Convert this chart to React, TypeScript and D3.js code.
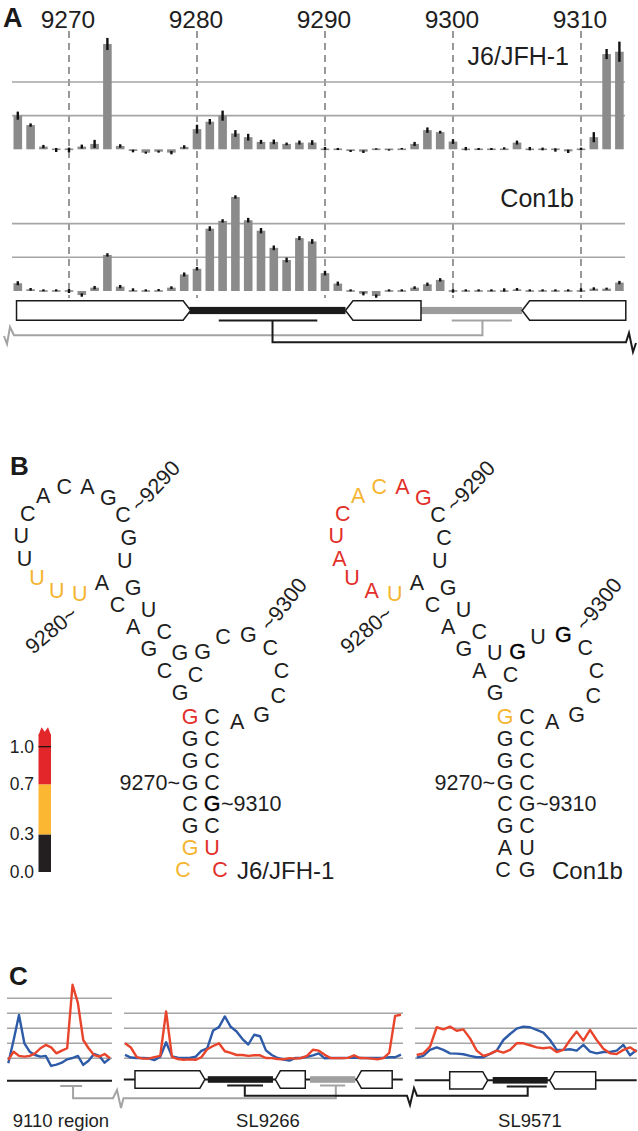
import React from 'react';
import * as d3 from 'd3';

const FONT = '"Liberation Sans", Arial, Helvetica, sans-serif';

// ---------- Panel A data (nt 9266..9313) ----------
const NT = d3.range(9266, 9314);
const TICKS = [9270, 9280, 9290, 9300, 9310];

const J6_VALUES = [
  1.0, 0.72, 0.08, -0.02, -0.02, 0.08, 0.16, 3.13, 0.1, -0.05, -0.1, -0.07,
  -0.1, 0.07, 0.6, 0.82, 1.0, 0.47, 0.36, 0.22, 0.22, 0.16, 0.2, 0.2,
  0.02, 0.01, -0.05, -0.07, 0.01, -0.02, 0.02, 0.16, 0.57, 0.51, 0.23, 0.02,
  0.01, 0.01, 0.03, 0.2, 0.02, 0.01, -0.02, -0.06, 0.01, 0.36, 2.83, 2.9,
];
const J6_ERRORS = [
  0.12, 0.05, 0.05, 0.06, 0.07, 0.06, 0.12, 0.18, 0.05, 0.04, 0.03, 0.03,
  0.05, 0.05, 0.13, 0.08, 0.15, 0.1, 0.1, 0.06, 0.07, 0.04, 0.06, 0.07,
  0.05, 0.03, 0.03, 0.04, 0.02, 0.02, 0.02, 0.06, 0.08, 0.04, 0.07, 0.05,
  0.03, 0.03, 0.03, 0.06, 0.05, 0.04, 0.05, 0.05, 0.04, 0.15, 0.15, 0.3,
];
const CON1B_VALUES = [
  0.23, 0.05, 0.02, 0.02, 0.0, -0.12, 0.1, 1.07, 0.13, 0.04, 0.02, 0.03,
  0.1, 0.49, 0.66, 1.85, 2.08, 2.79, 2.1, 1.79, 1.28, 0.92, 1.57, 1.47,
  0.53, 0.22, 0.02, -0.08, -0.15, 0.02, 0.02, 0.1, 0.2, 0.33, 0.0, 0.02,
  0.02, 0.02, 0.03, 0.05, 0.02, 0.02, 0.02, 0.02, 0.03, 0.07, 0.07, 0.25,
];
const CON1B_ERRORS = [
  0.06, 0.04, 0.03, 0.03, 0.06, 0.05, 0.05, 0.05, 0.05, 0.04, 0.03, 0.03,
  0.04, 0.06, 0.05, 0.07, 0.05, 0.05, 0.07, 0.08, 0.07, 0.07, 0.06, 0.07,
  0.07, 0.06, 0.03, 0.05, 0.05, 0.03, 0.03, 0.04, 0.05, 0.05, 0.05, 0.03,
  0.03, 0.03, 0.05, 0.04, 0.03, 0.03, 0.03, 0.03, 0.05, 0.04, 0.03, 0.05,
];

// ---------- Panel B data ----------
const J6_SEQ = 'CGGCGGGG' + 'GCGACA' + 'UUUUUCACAGCGU' + 'GUCGC' + 'GCGCCCGA' + 'CCCCGCUC';
const J6_COLS = 'ookkkkkr' + 'kkkkkk' + 'oookkkkkkkkkk' + 'kkkkk' + 'kkkkkkkk' + 'kkkkkkrr';
const J6_BOLD = [44];
const CON_SEQ = 'CAGCGGGG' + 'GAGACA' + 'UAUAUCACAGCCU' + 'GUCUC' + 'GUGCCCGA' + 'CCCCGCUG';
const CON_COLS = 'kkkkkkko' + 'kkkkkk' + 'orrrrroorrkkk' + 'kkkkk' + 'kkkkkkkk' + 'kkkkkkkk';
const CON_BOLD = [32, 34];
const LEGEND_TICKS = [0, 0.3, 0.7, 1.0];

// ---------- Panel C data ----------
const C1_BLUE = [-0.33, 1.22, 2.89, 1.0, 0.44, 0.22, 0.11, 0.16, -0.51, -0.42, -0.29, -0.07, 0.02, 0.16, -0.44, -0.16, 0.29, 0.16, -0.29, 0];
const C1_RED = [-0.11, 0.44, 0.16, 0.11, 0.16, 0.33, 0.67, 0.89, 0.73, 0.33, 0.51, 0.67, 4.9, 3.7, 1.22, 0.67, 0.22, 0.11, 0.29, 0];
const C3_RED = [
  0.22, 0.33, 0.78, 2.07, 1.93, 2.11, 1.84, 1.93, 1.33, 0.51, 0.16, 0.29,
  0.51, 0.38, 0.56, 1.0, 1.0, 0.87, 0.73, 0.67, 0.73, 0.42, 0.56, 1.22,
  1.78, 1.18, 1.89, 1.22, 0.64, 0.33, 0.29, 0.56, 0.73, 0.44,
];
const C3_BLUE = [
  0.04, 0.16, 0.56, 0.73, 0.56, 0.33, 0.31, 0.27, 0.16, 0.07, 0.07, 0.29,
  0.51, 1.22, 1.62, 1.98, 2.11, 2.07, 1.89, 1.71, 1.22, 0.56, 0.56, 0.6,
  0.51, 0.89, 0.44, 0.33, 0.42, 0.42, 0.51, 0.89, 0.2, 0.56,
];

const GREY_BAR = '#8b8b8b';
const GRID = '#a5a5a5';
const LINK_GREY = '#a3a3a3';
const INK = '#1b1b1b';
const TXT = '#1e1e1e';
const ORANGE = '#f5b530';
const RED = '#e2302b';
const C_RED = '#e8452c';
const C_BLUE = '#2e5ba8';
const LETTER_COL: Record<string, string> = { k: TXT, o: ORANGE, r: RED };

type Seg =
  | { kind: 'box'; from: number; to: number; dir: 'r' | 'l' }
  | { kind: 'bar'; from: number; to: number; color: string }
  | { kind: 'line'; from: number; to: number };

const TRACK_A: Seg[] = [
  { kind: 'bar', from: 9279.4, to: 9291.6, color: INK },
  { kind: 'bar', from: 9297.5, to: 9305.4, color: '#9c9c9c' },
  { kind: 'box', from: 9265.9, to: 9279.5, dir: 'r' },
  { kind: 'box', from: 9291.6, to: 9297.5, dir: 'l' },
  { kind: 'box', from: 9305.4, to: 9313.5, dir: 'l' },
];
const TRACK_C2: Seg[] = [
  { kind: 'line', from: 9265.8, to: 9313.3 },
  { kind: 'bar', from: 9280.1, to: 9291.2, color: INK },
  { kind: 'bar', from: 9297.5, to: 9305.2, color: '#a0a0a0' },
  { kind: 'box', from: 9267.7, to: 9279.6, dir: 'r' },
  { kind: 'box', from: 9291.6, to: 9296.7, dir: 'l' },
  { kind: 'box', from: 9305.4, to: 9311.5, dir: 'l' },
];
const TRACK_C3: Seg[] = [
  { kind: 'line', from: -0.3, to: 33 },
  { kind: 'bar', from: 11.4, to: 19.65, color: INK },
  { kind: 'box', from: 4.95, to: 10.65, dir: 'r' },
  { kind: 'box', from: 19.95, to: 26.85, dir: 'l' },
];

function boxPath(x0: number, x1: number, ym: number, hh: number, dir: 'r' | 'l', p: number) {
  if (dir === 'r') return `M${x0},${ym - hh}H${x1 - p}L${x1},${ym}L${x1 - p},${ym + hh}H${x0}Z`;
  return `M${x0},${ym}L${x0 + p},${ym - hh}H${x1}V${ym + hh}H${x0 + p}Z`;
}

function Track({ segs, x, ym, hh, bh, p }: { segs: Seg[]; x: (v: number) => number; ym: number; hh: number; bh: number; p: number }) {
  return (
    <g>
      {segs.map((s, i) => {
        if (s.kind === 'line')
          return <line key={i} x1={x(s.from)} x2={x(s.to)} y1={ym} y2={ym} stroke={INK} strokeWidth={2} />;
        if (s.kind === 'bar')
          return <rect key={i} x={x(s.from)} y={ym - bh} width={x(s.to) - x(s.from)} height={bh * 2} fill={s.color} />;
        return <path key={i} d={boxPath(x(s.from), x(s.to), ym, hh, s.dir, p)} fill="#fff" stroke={INK} strokeWidth={1.5} />;
      })}
    </g>
  );
}

// layout of the two-hairpin structure, ox shifts it horizontally
function layoutRNA(ox: number, endL: number, endR: number) {
  const pts: [number, number][] = [];
  const top = 717, dy = 21.86, xl = 190 + ox, xr = 212 + ox;
  for (let i = 0; i < 8; i++) pts.push([i === 0 ? xl - endL : xl, top + (7 - i) * dy]);
  for (let i = 0; i < 6; i++) pts.push([xl - 10 - i * 15.6, top - 24 - i * 22]);
  for (let i = 0; i < 13; i++) {
    const a = ((85 + i * 24.8) * Math.PI) / 180;
    pts.push([75 + ox + 54 * Math.cos(a), 540 + 54 * Math.sin(a)]);
  }
  for (let i = 0; i < 5; i++) pts.push([133 + ox + i * 15.6, 588 + i * 21.8]);
  for (let i = 0; i < 8; i++) {
    const a = ((216.6 + i * 33.5) * Math.PI) / 180;
    pts.push([238 + ox + 44 * Math.cos(a), 678 + 44 * Math.sin(a)]);
  }
  for (let i = 0; i < 8; i++) pts.push([i === 7 ? xr + endR : xr, top + i * dy]);
  return pts;
}

function Structure({ seq, cols, bold, ox, endL, endR, name }: { seq: string; cols: string; bold: number[]; ox: number; endL: number; endR: number; name: string }) {
  const pts = layoutRNA(ox, endL, endR);
  const at = (nt: number) => pts[nt - 9266];
  const [x80, y80] = at(9280);
  const [x90, y90] = at(9290);
  const [x00, y00] = at(9300);
  const [, y70] = at(9270);
  const [, y10] = at(9310);
  return (
    <g fontSize={21.5}>
      {pts.map(([x, y], i) => (
        <text key={i} x={x} y={y} textAnchor="middle" dominantBaseline="central" fill={bold.includes(i) ? '#000' : LETTER_COL[cols[i]]}
          stroke={bold.includes(i) ? '#000' : 'none'} strokeWidth={0.35}>
          {seq[i]}
        </text>
      ))}
      <text x={190 + ox - 10} y={y70} textAnchor="end" dominantBaseline="central" fill={TXT}>9270~</text>
      <text x={212 + ox + 9} y={y10} dominantBaseline="central" fill={TXT}>~9310</text>
      <text transform={`translate(${x80 - 5},${y80 + 17}) rotate(-40)`} textAnchor="end" dominantBaseline="central" fill={TXT}>9280~</text>
      <text transform={`translate(${x90 + 12},${y90 - 7}) rotate(-47)`} dominantBaseline="central" fill={TXT}>~9290</text>
      <text transform={`translate(${x00 + 17},${y00 - 7}) rotate(-52)`} dominantBaseline="central" fill={TXT}>~9300</text>
      <text x={237 + ox} y={870} fontSize={24} dominantBaseline="central" fill={TXT}>{name}</text>
    </g>
  );
}

export default function App() {
  // ---- Panel A scales ----
  const xA = d3.scaleLinear().domain([9270, 9310]).range([69, 581]);
  const yJ6 = d3.scaleLinear().domain([0, 2]).range([149.3, 82]);
  const yCon = d3.scaleLinear().domain([0, 2]).range([291, 223.6]);
  const bw = 8.6;

  const bars = (values: number[], errors: number[], y: d3.ScaleLinear<number, number>) => {
    const y0 = y(0);
    return (
      <g>
        {NT.map((nt, i) => {
          const yv = y(values[i]);
          let top = Math.min(yv, y0);
          let h = Math.abs(yv - y0);
          if (h < 1.6) { top = y0 - 0.8; h = 1.6; }
          return <rect key={nt} x={xA(nt) - bw / 2} y={top} width={bw} height={h} fill={GREY_BAR} />;
        })}
        {NT.map((nt, i) => (
          <line key={'e' + nt} x1={xA(nt)} x2={xA(nt)} y1={y(values[i] - errors[i])} y2={y(values[i] + errors[i])} stroke="#111" strokeWidth={2.4} />
        ))}
      </g>
    );
  };

  // ---- Panel C scales ----
  const xC1 = d3.scaleLinear().domain([0, 19]).range([8.3, 110]);
  const yC1 = d3.scaleLinear().domain([0, 4]).range([1058.3, 998.3]);
  const xC2 = d3.scaleLinear().domain([9266, 9313]).range([125, 401]);
  const yC2 = d3.scaleLinear().domain([0, 3]).range([1058.3, 1013.3]);
  const xC3 = d3.scaleLinear().domain([0, 33]).range([416.7, 636.7]);
  const yC3 = d3.scaleLinear().domain([0, 2]).range([1058.3, 1028.3]);

  const lineIdx = (x: d3.ScaleLinear<number, number>, y: d3.ScaleLinear<number, number>) =>
    d3.line<number>().x((_, i) => x(i)).y((d) => y(d));
  const lineNt = d3.line<number>().x((_, i) => xC2(NT[i])).y((d) => yC2(d));

  const grid = (x0: number, x1: number, y: d3.ScaleLinear<number, number>, n: number) =>
    d3.range(n + 1).map((v) => <line key={v} x1={x0} x2={x1} y1={y(v)} y2={y(v)} stroke={GRID} strokeWidth={1.5} />);

  const legendY = d3.scaleLinear().domain([0, 1]).range([872, 746.7]);
  const legendBands = [
    { from: 0, to: 0.3, color: '#231f20' },
    { from: 0.3, to: 0.7, color: '#fbb731' },
    { from: 0.7, to: 1.1, color: '#e3262a' },
  ];
  const lx0 = 38.5, lx1 = 51;
  const ltop = legendY(1.1);

  const aBlackDrop = xA(9285.9);
  const aGreyDrop = xA(9302.3);

  const c1Drop = xC1(12.1);
  const c2GreyDrop = xC2(9301.9);
  const c2BlackDrop = xC2(9286.4);
  const c3Drop = xC3(16.65);

  const lineProps = { fill: 'none', strokeWidth: 2.4, strokeLinejoin: 'round' as const };

  return (
    <svg width={638} height={1131} style={{ position: 'absolute', left: 0, top: 0, background: '#fff' }} fontFamily={FONT}>
      {/* ===== Panel A ===== */}
      <text x={3} y={27} fontSize={27} fontWeight="bold" fill="#1a1a1a">A</text>
      {TICKS.map((t) => (
        <g key={t}>
          <text x={xA(t) - 1} y={28} fontSize={24.5} textAnchor="middle" fill={TXT}>{t}</text>
          <line x1={xA(t)} x2={xA(t)} y1={31} y2={298} stroke="#555" strokeWidth={1.2} strokeDasharray="7,5" />
        </g>
      ))}
      {[1, 2].map((v) => (
        <g key={v}>
          <line x1={12} x2={625} y1={yJ6(v)} y2={yJ6(v)} stroke={GRID} strokeWidth={1.6} />
          <line x1={12} x2={625} y1={yCon(v)} y2={yCon(v)} stroke={GRID} strokeWidth={1.6} />
        </g>
      ))}
      <text x={569} y={65} fontSize={25} textAnchor="end" fill={TXT}>J6/JFH-1</text>
      <text x={574} y={207} fontSize={25} textAnchor="end" fill={TXT}>Con1b</text>
      {bars(J6_VALUES, J6_ERRORS, yJ6)}
      {bars(CON1B_VALUES, CON1B_ERRORS, yCon)}

      <Track segs={TRACK_A} x={xA} ym={310.5} hh={9.8} bh={3.6} p={7.5} />
      <line x1={xA(9281.7)} x2={xA(9289.4)} y1={320.5} y2={320.5} stroke={INK} strokeWidth={2} />
      <line x1={xA(9299.9)} x2={xA(9304.6)} y1={320.5} y2={320.5} stroke={LINK_GREY} strokeWidth={2} />
      <path d={`M${aGreyDrop},320.5V335.3H14L10,327L7,344L4,336`} fill="none" stroke={LINK_GREY} strokeWidth={2} />
      <path d={`M${aBlackDrop},320.5V342.3H626L629,333L633,352L636,343`} fill="none" stroke={INK} strokeWidth={2} />

      {/* ===== Panel B ===== */}
      <text x={10} y={475} fontSize={26} fontWeight="bold" fill="#1a1a1a">B</text>
      <Structure seq={J6_SEQ} cols={J6_COLS} bold={J6_BOLD} ox={0} endL={7} endR={8} name="J6/JFH-1" />
      <Structure seq={CON_SEQ} cols={CON_COLS} bold={CON_BOLD} ox={315} endL={2} endR={0} name="Con1b" />

      {legendBands.map((b) => (
        <rect key={b.from} x={lx0} y={legendY(b.to)} width={lx1 - lx0} height={legendY(b.from) - legendY(b.to)} fill={b.color} />
      ))}
      <path d={`M${lx0},${ltop + 1}L${lx0 + 3},${ltop - 7}L${(lx0 + lx1) / 2},${ltop - 2.5}L${lx1 - 3},${ltop - 7}L${lx1},${ltop + 1}Z`} fill="#e3262a" />
      <line x1={lx0} x2={lx1} y1={legendY(1)} y2={legendY(1)} stroke="#111" strokeWidth={1.2} />
      {LEGEND_TICKS.map((v) => (
        <text key={v} x={34} y={legendY(v)} fontSize={17.5} textAnchor="end" dominantBaseline="central" fill={TXT}>
          {v.toFixed(1)}
        </text>
      ))}

      {/* ===== Panel C ===== */}
      <text x={9} y={985} fontSize={26} fontWeight="bold" fill="#1a1a1a">C</text>
      {grid(7, 112, yC1, 4)}
      {grid(124, 403, yC2, 3)}
      {grid(415, 637, yC3, 2)}

      <path d={lineIdx(xC1, yC1)(C1_BLUE) || ''} stroke={C_BLUE} {...lineProps} />
      <path d={lineIdx(xC1, yC1)(C1_RED) || ''} stroke={C_RED} {...lineProps} />
      <path d={lineNt(CON1B_VALUES) || ''} stroke={C_BLUE} {...lineProps} />
      <path d={lineNt(J6_VALUES) || ''} stroke={C_RED} {...lineProps} />
      <path d={lineIdx(xC3, yC3)(C3_BLUE) || ''} stroke={C_BLUE} {...lineProps} />
      <path d={lineIdx(xC3, yC3)(C3_RED) || ''} stroke={C_RED} {...lineProps} />

      {/* tracks */}
      <line x1={7} x2={112} y1={1080.7} y2={1080.7} stroke={INK} strokeWidth={2} />
      <Track segs={TRACK_C2} x={xC2} ym={1079.5} hh={8.7} bh={3.3} p={5} />
      <Track segs={TRACK_C3} x={xC3} ym={1080.3} hh={8.6} bh={3.3} p={5} />

      <line x1={xC1(9.7)} x2={xC1(13.8)} y1={1086} y2={1086} stroke={LINK_GREY} strokeWidth={2} />
      <line x1={xC2(9299.2)} x2={xC2(9303.5)} y1={1085.5} y2={1085.5} stroke={LINK_GREY} strokeWidth={2} />
      <line x1={xC2(9283.4)} x2={xC2(9289.5)} y1={1085.5} y2={1085.5} stroke={INK} strokeWidth={2} />
      <line x1={xC3(13.5)} x2={xC3(19.5)} y1={1086.5} y2={1086.5} stroke={INK} strokeWidth={2} />
      <path d={`M${c1Drop},1086V1098.3H113L117,1090L121,1108L123.5,1098.3H${c2GreyDrop}V1085.5`} fill="none" stroke={LINK_GREY} strokeWidth={2} />
      <path d={`M${c2BlackDrop},1085.5V1095.7H407L410,1105L414,1088L417,1095.7H${c3Drop}V1086.5`} fill="none" stroke={INK} strokeWidth={2} />

      <text x={61} y={1127} fontSize={18.5} textAnchor="middle" fill={TXT}>9110 region</text>
      <text x={268} y={1127} fontSize={18.5} textAnchor="middle" fill={TXT}>SL9266</text>
      <text x={530} y={1127} fontSize={18.5} textAnchor="middle" fill={TXT}>SL9571</text>
    </svg>
  );
}
